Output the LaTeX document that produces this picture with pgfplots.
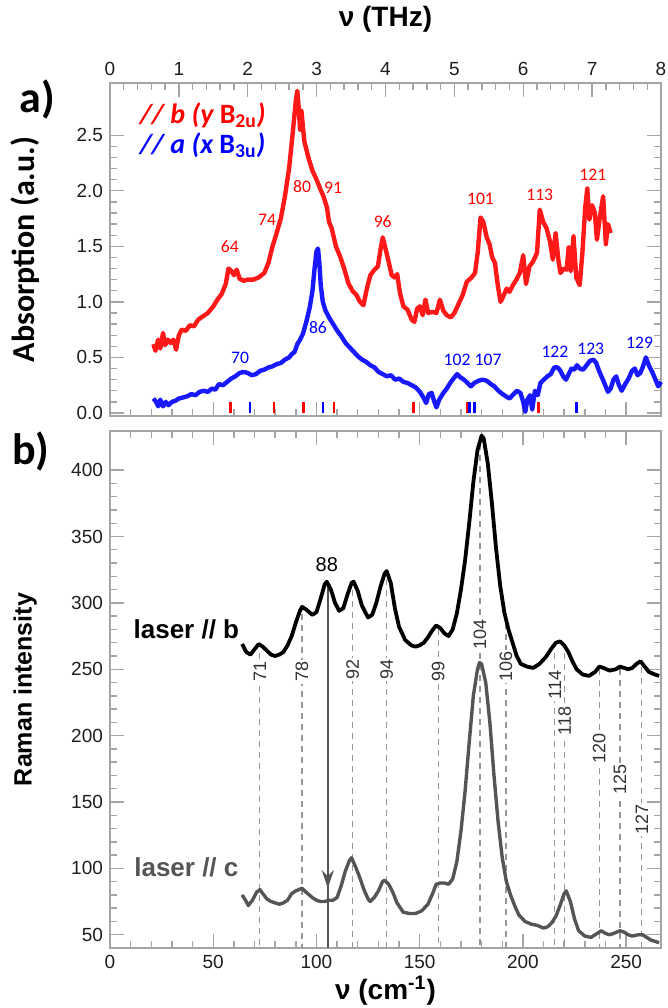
\documentclass[border=0pt]{standalone}
\usepackage{fontspec}
\setmainfont{Liberation Sans}
\newfontfamily\calfont{Carlito}
\usepackage{pgfplots}
\pgfplotsset{compat=1.18}
\usetikzlibrary{arrows.meta,calc}

\definecolor{framegray}{RGB}{165,165,165}
\definecolor{ticklab}{RGB}{30,30,30}
\definecolor{ramangray}{RGB}{85,85,85}
\definecolor{dashgray}{RGB}{150,150,150}
\definecolor{labgray}{RGB}{50,50,50}

\pgfplotsset{
  base/.style={scale only axis, width=275.5pt,
    axis line style={draw=framegray, line width=0.7pt},
    every tick/.style={draw=framegray, line width=0.7pt},
    major tick length=7pt, minor tick length=3.5pt, tick align=inside,
    tick label style={font=\fontsize{9.5}{10}\selectfont, text=ticklab},
    /pgf/number format/assume math mode=true, clip=false},
}
\tikzset{
  dashline/.style={dashgray, dash pattern=on 3pt off 2.5pt, line width=0.6pt},
  mlab/.style={rotate=90, fill=white, inner sep=0.8pt, text=labgray,
    font=\fontsize{9}{9}\selectfont},
}

\begin{document}
\begin{tikzpicture}
\useasboundingbox (-55pt,-30pt) rectangle (279pt,474pt);

% ---------------- panel b: Raman ----------------
\begin{axis}[base, name=b, at={(0,0)}, anchor=south west, height=258.5pt,
  xmin=0, xmax=266.9, ymin=40, ymax=429.5,
  xtick={0,50,...,250}, minor x tick num=4,
  ytick={50,100,...,400}, minor y tick num=4,
  xlabel={\fontsize{14}{16}\selectfont\bfseries ν (cm\textsuperscript{-1})},
  xlabel style={at={(axis description cs:0.5,-0.082)}, anchor=center},
  ylabel={\fontsize{12.5}{14}\selectfont\bfseries Raman intensity},
  ylabel style={at={(axis description cs:-0.154,0.5)}, anchor=center}]
% assignment lines
\addplot[dashline] coordinates {(72.6,262) (72.6,40)};
\addplot[dashline] coordinates {(93,292) (93,40)};
\addplot[dashline] coordinates {(117.6,310) (117.6,40)};
\addplot[dashline] coordinates {(134,318) (134,40)};
\addplot[dashline] coordinates {(159,280) (159,40)};
\addplot[dashline] coordinates {(179.2,420) (179.2,40)};
\addplot[dashline] coordinates {(191.8,285) (191.8,40)};
\addplot[dashline] coordinates {(215.5,262) (215.5,40)};
\addplot[dashline] coordinates {(220.3,262) (220.3,40)};
\addplot[dashline] coordinates {(237,250) (237,40)};
\addplot[dashline] coordinates {(247,250) (247,40)};
\addplot[dashline] coordinates {(257.6,252) (257.6,40)};
\node[mlab] at (axis cs:72.6,248) {71};
\node[mlab] at (axis cs:93,248) {78};
\node[mlab] at (axis cs:117.6,250) {92};
\node[mlab] at (axis cs:134,250) {94};
\node[mlab] at (axis cs:159,248) {99};
\node[mlab] at (axis cs:179.2,276) {104};
\node[mlab] at (axis cs:191.8,252) {106};
\node[mlab] at (axis cs:215.5,238) {114};
\node[mlab] at (axis cs:220.3,211) {118};
\node[mlab] at (axis cs:237,190) {120};
\node[mlab] at (axis cs:247,167) {125};
\node[mlab] at (axis cs:257.6,137) {127};
% arrow
\addplot[ramangray, line width=1.1pt] coordinates {(105.5,315) (105.5,40)};
\addplot[ramangray, line width=1.1pt, -{Stealth[length=9pt,width=6pt]}]
  coordinates {(105.5,150) (105.5,85)};
\node[font=\fontsize{10}{10}\selectfont] at (axis cs:105,329) {88};
% laser // b
\addplot[black, line width=1.9pt, line join=round] coordinates {
(64,269) (66,263) (68,261) (70,265) (72,269) (74,267) (76,264) (78,261)
(80,260) (82,261) (84,263) (86,268) (88,275) (90,285) (92,294) (93,297)
(95,295) (98,291) (100,293) (102,303) (104,314) (105,316) (107,310)
(109,300) (111,294) (113,296) (115,306) (117,315) (118,316) (120,309)
(122,298) (125,289) (127,291) (129,300) (131,312) (133,322) (134,324)
(136,315) (138,296) (140,282) (143,272) (146,268) (148,267) (150,268)
(152,270) (154,274) (156,279) (158,283) (160,281) (162,277) (164,275)
(166,280) (168,292) (170,310) (172,332) (174,360) (176,391) (178,415)
(180,426) (181,424) (183,405) (185,375) (187,341) (189,313) (191,293)
(193,280) (195,270) (197,260) (199,254) (202,252) (205,251) (208,254)
(211,259) (214,266) (216,270) (218,271) (220,268) (222,263) (224,256)
(226,250) (229,246) (232,245) (235,248) (237,252) (239,251) (242,249)
(245,250) (247,252) (249,251) (251,250) (253,251) (255,254) (257,256)
(259,252) (261,248) (264,246) (266,245)};
% laser // c
\addplot[ramangray, line width=1.7pt, line join=round] coordinates {
(64,80) (66,75) (67,72) (69,76) (71,82) (72.6,84) (74,81) (76,77) (78,75)
(80,74) (82,73) (84,74) (86,76) (88,81) (90,83) (93,85) (95,82) (98,78)
(100,76) (102,75) (104,75) (106,76) (108,76) (110,78) (112,87) (114,98)
(116,106) (117,108) (119,101) (121,93) (123,84) (125,77) (126,75) (128,78)
(130,83) (132,90) (133,91) (135,88) (137,82) (139,74) (142,67) (145,66)
(148,66) (151,68) (154,73) (156,80) (158,88) (160,89) (162,89) (164,88)
(166,92) (168,105) (170,128) (172,158) (174,195) (176,230) (178,250)
(179,255) (180,254) (182,240) (184,210) (186,170) (188,135) (190,108)
(192,90) (194,80) (196,72) (198,65) (201,60) (204,58) (207,57) (210,55)
(212,56) (214,59) (216,64) (218,72) (220,81) (221,83) (223,75) (225,62)
(227,53) (230,49) (233,48) (236,51) (238,53) (240,51) (242,50) (244,51)
(247,53) (249,52) (251,50) (253,49) (256,50) (258,50) (260,48) (262,46)
(264,45) (266,44)};
\node[font=\fontsize{13}{14}\selectfont\bfseries] at (axis cs:37,280) {laser // b};
\node[font=\fontsize{13}{14}\selectfont\bfseries, text=ramangray] at (axis cs:37,100.5) {laser // c};
\end{axis}
\node[font=\calfont\fontsize{22}{24}\selectfont\bfseries] at ($(b.north west)+(-39.5pt,-10.5pt)$) {b)};

% ---------------- panel a: absorption, cm-1 ticks at bottom ----------------
\begin{axis}[base, at={(0,266pt)}, anchor=south west, height=166.5pt,
  xmin=0, xmax=266.9, ymin=0, ymax=1,
  xtick={0,50,...,250}, minor x tick num=4, xtick pos=left,
  xticklabels={}, ytick=\empty]
\end{axis}
% ---------------- panel a: absorption, THz data ----------------
\begin{axis}[base, name=a, at={(0,266pt)}, anchor=south west, height=166.5pt,
  xmin=0, xmax=8, ymin=-0.027, ymax=2.97,
  xtick={0,1,...,8}, minor x tick num=4, xtick pos=right, xticklabel pos=right,
  ytick={0,0.5,...,2.5}, minor y tick num=4,
  yticklabel style={/pgf/number format/.cd, fixed, fixed zerofill, precision=1},
  ylabel={\calfont\fontsize{16}{18}\selectfont\bfseries Absorption (a.u.)},
  ylabel style={at={(axis description cs:-0.154,0.5)}, anchor=center}]
% mode bars
\addplot[ycomb, red, line width=1.3pt, mark=none] coordinates {
(1.75,0.1) (2.38,0.1) (2.81,0.1) (3.25,0.1) (4.41,0.1) (5.19,0.1) (6.22,0.1)};
\addplot[ycomb, blue, line width=1.3pt, mark=none] coordinates {
(2.03,0.1) (3.09,0.1) (5.22,0.1) (5.29,0.1) (6.77,0.1)};
% E // b
\addplot[red, line width=2.2pt, line join=round, opacity=0.9] coordinates {
(0.63,0.62) (0.66,0.56) (0.70,0.66) (0.73,0.58) (0.77,0.72) (0.80,0.61)
(0.84,0.66) (0.88,0.63) (0.92,0.66) (0.96,0.57) (1.00,0.70) (1.04,0.75)
(1.10,0.74) (1.16,0.79) (1.22,0.78) (1.28,0.84) (1.35,0.87) (1.42,0.90)
(1.50,0.96) (1.56,1.02) (1.62,1.07) (1.68,1.16) (1.72,1.30) (1.76,1.28)
(1.80,1.24) (1.84,1.29) (1.88,1.21) (1.94,1.19) (2.00,1.20) (2.08,1.20)
(2.16,1.22) (2.24,1.26) (2.30,1.35) (2.36,1.50) (2.42,1.62) (2.48,1.75)
(2.54,1.95) (2.60,2.20) (2.65,2.50) (2.70,2.82) (2.72,2.90) (2.74,2.75)
(2.76,2.55) (2.78,2.72) (2.82,2.45) (2.88,2.30) (2.94,2.18) (3.00,2.10)
(3.05,2.02) (3.10,1.95) (3.15,1.85) (3.18,1.72) (3.22,1.66) (3.28,1.50)
(3.34,1.41) (3.40,1.30) (3.46,1.17) (3.52,1.10) (3.58,1.06) (3.63,1.00)
(3.68,0.97) (3.73,1.12) (3.78,1.24) (3.84,1.29) (3.89,1.32) (3.93,1.48)
(3.96,1.58) (4.00,1.48) (4.05,1.35) (4.09,1.24) (4.13,1.22) (4.17,1.25)
(4.21,1.08) (4.26,0.96) (4.32,0.93) (4.38,0.84) (4.42,0.82) (4.46,0.94)
(4.50,0.96) (4.54,0.88) (4.58,1.02) (4.62,0.90) (4.68,0.91) (4.74,0.90)
(4.79,1.02) (4.84,0.92) (4.89,0.88) (4.95,0.86) (5.00,0.90) (5.06,0.98)
(5.12,1.06) (5.18,1.18) (5.25,1.22) (5.30,1.26) (5.34,1.45) (5.38,1.76)
(5.42,1.72) (5.47,1.58) (5.51,1.52) (5.55,1.40) (5.59,1.35) (5.63,1.15)
(5.67,1.00) (5.71,1.05) (5.76,1.12) (5.80,1.09) (5.85,1.15) (5.90,1.20)
(5.95,1.26) (6.00,1.42) (6.04,1.16) (6.09,1.32) (6.14,1.36) (6.20,1.44)
(6.24,1.83) (6.29,1.72) (6.34,1.66) (6.39,1.54) (6.43,1.38) (6.47,1.62)
(6.51,1.38) (6.54,1.26) (6.59,1.30) (6.63,1.29) (6.66,1.49) (6.69,1.28)
(6.73,1.59) (6.77,1.22) (6.82,1.15) (6.86,1.45) (6.90,1.85) (6.93,2.02)
(6.96,1.74) (7.00,1.87) (7.04,1.80) (7.07,1.56) (7.11,1.75) (7.16,1.95)
(7.20,1.52) (7.23,1.70) (7.27,1.62)};
% E // a
\addplot[blue, line width=2.2pt, line join=round, opacity=0.9] coordinates {
(0.63,0.13) (0.67,0.10) (0.70,0.06) (0.73,0.12) (0.77,0.06) (0.81,0.10)
(0.85,0.07) (0.90,0.10) (0.95,0.11) (1.00,0.13) (1.06,0.14) (1.12,0.15)
(1.18,0.17) (1.24,0.16) (1.30,0.19) (1.36,0.20) (1.42,0.19) (1.48,0.22)
(1.53,0.21) (1.58,0.26) (1.64,0.25) (1.70,0.28) (1.76,0.31) (1.82,0.33)
(1.88,0.36) (1.94,0.37) (2.00,0.36) (2.06,0.34) (2.12,0.35) (2.18,0.38)
(2.24,0.39) (2.30,0.41) (2.36,0.42) (2.42,0.44) (2.48,0.45) (2.54,0.48)
(2.60,0.50) (2.64,0.53) (2.68,0.55) (2.72,0.62) (2.76,0.66) (2.80,0.71)
(2.85,0.82) (2.90,0.95) (2.94,1.10) (2.97,1.30) (3.00,1.46) (3.02,1.48)
(3.04,1.35) (3.06,1.15) (3.09,1.00) (3.13,0.92) (3.18,0.86) (3.24,0.80)
(3.30,0.74) (3.36,0.69) (3.42,0.63) (3.48,0.59) (3.54,0.55) (3.60,0.51)
(3.66,0.48) (3.72,0.46) (3.78,0.43) (3.84,0.41) (3.90,0.37) (3.96,0.35)
(4.02,0.33) (4.08,0.34) (4.14,0.30) (4.20,0.31) (4.26,0.28) (4.32,0.27)
(4.38,0.25) (4.44,0.23) (4.50,0.19) (4.55,0.14) (4.59,0.09) (4.63,0.17)
(4.67,0.18) (4.71,0.10) (4.74,0.05) (4.78,0.12) (4.84,0.18) (4.89,0.22)
(4.95,0.28) (5.00,0.32) (5.04,0.35) (5.09,0.32) (5.14,0.30) (5.19,0.27)
(5.24,0.24) (5.29,0.27) (5.35,0.29) (5.41,0.30) (5.47,0.29) (5.53,0.26)
(5.58,0.24) (5.64,0.20) (5.70,0.17) (5.75,0.15) (5.80,0.13) (5.86,0.17)
(5.91,0.20) (5.96,0.18) (6.00,0.10) (6.03,0.01) (6.06,0.12) (6.10,0.16)
(6.13,0.03) (6.17,0.20) (6.21,0.16) (6.25,0.27) (6.30,0.30) (6.35,0.33)
(6.40,0.35) (6.45,0.41) (6.50,0.41) (6.54,0.38) (6.58,0.33) (6.62,0.30)
(6.66,0.35) (6.70,0.40) (6.74,0.39) (6.78,0.43) (6.82,0.40) (6.87,0.39)
(6.92,0.43) (6.97,0.47) (7.02,0.48) (7.06,0.45) (7.10,0.38) (7.15,0.31)
(7.19,0.25) (7.23,0.19) (7.27,0.22) (7.31,0.30) (7.35,0.33) (7.39,0.25)
(7.43,0.20) (7.48,0.26) (7.53,0.31) (7.58,0.38) (7.62,0.40) (7.66,0.34)
(7.70,0.36) (7.74,0.42) (7.78,0.50) (7.83,0.42) (7.88,0.36) (7.92,0.30)
(7.96,0.24) (8.00,0.28)};
% peak labels
\begin{scope}[every node/.style={font=\calfont\fontsize{8.8}{9}\selectfont, text=red}]
\node at (axis cs:1.74,1.50) {64};
\node at (axis cs:2.28,1.74) {74};
\node at (axis cs:2.79,2.04) {80};
\node at (axis cs:3.24,2.03) {91};
\node at (axis cs:3.96,1.72) {96};
\node at (axis cs:5.38,1.93) {101};
\node at (axis cs:6.24,1.96) {113};
\node at (axis cs:7.01,2.14) {121};
\end{scope}
\begin{scope}[every node/.style={font=\calfont\fontsize{8.8}{9}\selectfont, text=blue}]
\node at (axis cs:1.89,0.50) {70};
\node at (axis cs:3.02,0.77) {86};
\node at (axis cs:5.04,0.48) {102};
\node at (axis cs:5.49,0.48) {107};
\node at (axis cs:6.46,0.55) {122};
\node at (axis cs:6.98,0.58) {123};
\node at (axis cs:7.69,0.63) {129};
\end{scope}
\node[anchor=west, text=red, font=\calfont\fontsize{14}{15}\selectfont\bfseries]
  at (axis cs:0.33,2.68) {\itshape // b (y \upshape B\textsubscript{2u}\itshape)};
\node[anchor=west, text=blue, font=\calfont\fontsize{14}{15}\selectfont\bfseries]
  at (axis cs:0.33,2.41) {\itshape // a (x \upshape B\textsubscript{3u}\itshape)};
\end{axis}
\node[font=\fontsize{14}{16}\selectfont\bfseries] at ($(a.north)+(0,32pt)$) {ν (THz)};
\node[font=\calfont\fontsize{22}{24}\selectfont\bfseries] at ($(a.north west)+(-36.5pt,-8.5pt)$) {a)};
\end{tikzpicture}
\end{document}
